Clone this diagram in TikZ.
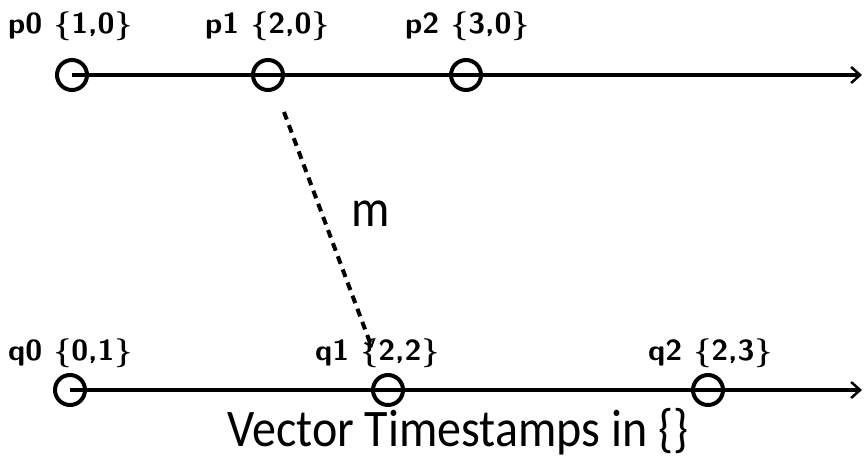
\documentclass[tikz,border=0pt]{standalone}
\usepackage{fontspec}
\newfontfamily\calfont{Carlito}
\usetikzlibrary{arrows.meta}
\begin{document}
\begin{tikzpicture}[x=1pt,y=-1pt,
  event/.style={circle,draw,line width=4pt,minimum size=30pt,inner sep=0pt,fill=none},
  timeline/.style={line width=4.5pt,-{Straight Barb[length=9pt,width=16pt,line width=2.5pt]}},
  lbl/.style={anchor=base west,inner sep=0pt,font=\sffamily\bfseries\fontsize{29}{29}\selectfont,xscale=1.06,transform shape},
  msg/.style={line width=4pt,dash pattern=on 8pt off 6pt,-{Straight Barb[length=6pt,width=10pt,line width=2pt]}},
  big/.style={inner sep=0pt,font=\calfont\fontsize{48}{48}\selectfont,yscale=1.1,transform shape}]
\useasboundingbox (0,0) rectangle (865,460);
% top process
\coordinate (pend) at (862,75);
\draw[timeline] (72,75) coordinate (pstart) -- (pend);
\node[event] (p0) at (pstart) {};
\node[event] (p1) at (268,75) {};
\node[event] (p2) at (466,75) {};
\node[lbl] (lp0) at (8,34) {p0 \{1,0\}};
\node[lbl] (lp1) at (205,34) {p1 \{2,0\}};
\node[lbl] (lp2) at (405,34) {p2 \{3,0\}};
% bottom process
\coordinate (qend) at (862,390);
\draw[timeline] (70,390) coordinate (qstart) -- (qend);
\node[event] (q0) at (qstart) {};
\node[event] (q1) at (388,390) {};
\node[event] (q2) at (708,390) {};
\node[lbl] (lq0) at (8,360) {q0 \{0,1\}};
\node[lbl] (lq1) at (315,360) {q1 \{2,2\}};
\node[lbl] (lq2) at (648,360) {q2 \{2,3\}};
% message
\coordinate (ms) at (284,112);
\coordinate (me) at (372,348);
\draw[msg] (ms) -- (me);
\node[big,anchor=base] (m) at (371,226) {m};
\node[big,anchor=base] (cap) at (458,446) {Vector Timestamps in \{\}};
\end{tikzpicture}
\end{document}
